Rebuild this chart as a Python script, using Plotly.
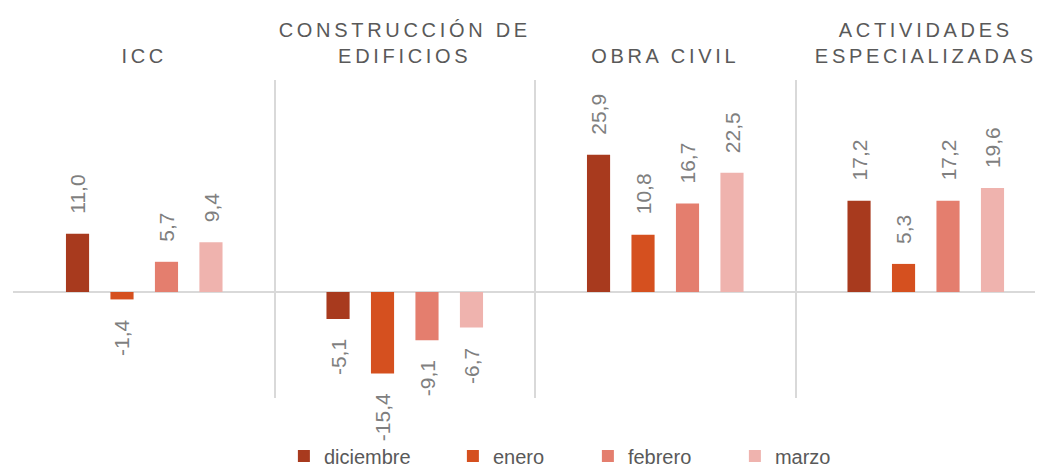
import plotly.graph_objects as go

categories = ["ICC", "CONSTRUCCIÓN DE<br>EDIFICIOS", "OBRA CIVIL", "ACTIVIDADES<br>ESPECIALIZADAS"]
series_names = ["diciembre", "enero", "febrero", "marzo"]
diciembre = [11.0, -5.1, 25.9, 17.2]
enero = [-1.4, -15.4, 10.8, 5.3]
febrero = [5.7, -9.1, 16.7, 17.2]
marzo = [9.4, -6.7, 22.5, 19.6]
series_values = [diciembre, enero, febrero, marzo]

colors = ["#A83A1E", "#D5501F", "#E47E6E", "#EFB3AE"]
legend_widths = [124, 90, 102, 80]

BARGAP = 0.317
GROUPGAP = 0.48
slot = (1 - BARGAP) / len(series_names)

FONT = "Liberation Sans, Arial, sans-serif"

def spaced(text, px):
    return "<br>".join(f'<span style="letter-spacing:{px}px">{part}</span>' for part in text.split("<br>"))

cat_labels = [spaced(c, 3.7) for c in categories]

fig = go.Figure()
for i, (name, vals) in enumerate(zip(series_names, series_values)):
    fig.add_trace(go.Bar(
        x=cat_labels, y=vals, name=name,
        marker=dict(color=colors[i], line=dict(width=0)),
        legendwidth=legend_widths[i],
        hoverinfo="skip",
    ))

annotations = []
for i, vals in enumerate(series_values):
    for j, v in enumerate(vals):
        annotations.append(dict(
            x=j + (i - 1.5) * slot, y=v, xref="x", yref="y",
            text=f"{v:.1f}".replace(".", ","),
            textangle=-90, showarrow=False,
            yanchor="bottom" if v >= 0 else "top",
            xanchor="center",
            yshift=18 if v >= 0 else -18,
            font=dict(family=FONT, size=21, color="#7F7F7F"),
        ))

# the page body adds an 8px offset; the figure is sized to fill the rest of the window
fig.update_layout(
    width=1035, height=460,
    margin=dict(l=5, r=0, t=72, b=70, autoexpand=False),
    paper_bgcolor="white", plot_bgcolor="white",
    barmode="group", bargap=BARGAP, bargroupgap=GROUPGAP,
    annotations=annotations,
    showlegend=True,
    legend=dict(
        orientation="h", x=0.263, xanchor="left",
        yref="container", y=0.026, yanchor="middle",
        font=dict(family=FONT, size=20, color="#595959"),
        bgcolor="rgba(0,0,0,0)",
    ),
    xaxis=dict(
        type="category", side="top", tickson="boundaries",
        showgrid=True, gridcolor="#D9D9D9", gridwidth=1.5,
        ticks="", showline=False, zeroline=False,
        range=[-0.5038, 3.450], tickangle=0, automargin=False,
        ticklabelstandoff=12,
        tickfont=dict(family=FONT, size=20, color="#595959"),
    ),
    yaxis=dict(
        range=[-20, 40], showticklabels=False, showgrid=False,
        zeroline=True, zerolinecolor="#D9D9D9", zerolinewidth=2,
        ticks="", showline=False, automargin=False,
    ),
)

fig.write_html("out.html")
